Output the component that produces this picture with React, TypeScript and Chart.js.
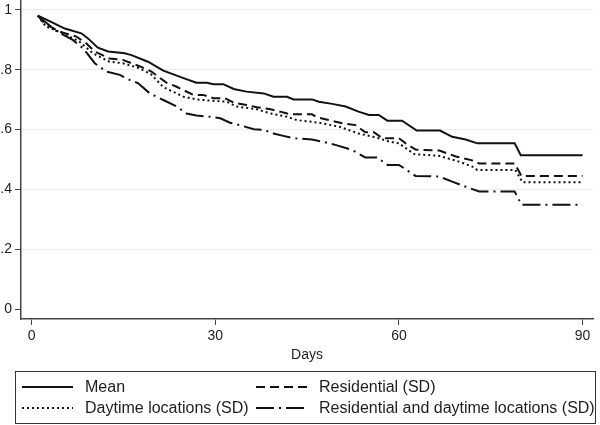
import React, { useEffect, useRef } from "react";
import { Chart, registerables } from "chart.js";

Chart.register(...registerables);

const xTicks = [0, 30, 60, 90];
const xTickLabels = ["0", "30", "60", "90"];
const yTicks = [0, 0.2, 0.4, 0.6, 0.8, 1];
const yTickLabels = ["0", ".2", ".4", ".6", ".8", "1"];
const xTitle = "Days";
const seriesNames = [
  "Mean",
  "Residential (SD)",
  "Daytime locations (SD)",
  "Residential and daytime locations (SD)",
];

const meanDays = [1, 3, 5.4, 8.1, 9.2, 10.8, 12.5, 15.2, 16.3, 19, 21.5, 24.8, 26.9, 28.6, 29.7, 31.3, 33, 35.1, 37.9, 39.5, 41.7, 42.8, 45.8, 46.9, 49.1, 51.3, 53.4, 55.1, 56.7, 58.1, 60.5, 62.9, 66.7, 68.7, 70.9, 72.8, 78.9, 79.9, 90];
const meanValues = [0.981, 0.962, 0.938, 0.922, 0.905, 0.874, 0.861, 0.855, 0.849, 0.827, 0.797, 0.772, 0.757, 0.757, 0.752, 0.752, 0.736, 0.727, 0.721, 0.71, 0.71, 0.701, 0.701, 0.693, 0.686, 0.677, 0.66, 0.649, 0.649, 0.63, 0.63, 0.597, 0.597, 0.576, 0.567, 0.554, 0.554, 0.514, 0.514];

const residentialDays = [1, 2.1, 4.5, 7.3, 8.9, 10.3, 12.7, 14.9, 17.6, 19.5, 22, 23.6, 26.4, 28, 29.7, 31.6, 33, 35.1, 36.8, 39, 40.6, 42.2, 45.8, 46.6, 48.5, 50.7, 52.9, 54.5, 55.9, 57.3, 60, 61.1, 62.7, 66.6, 69.3, 71.8, 73.1, 78.9, 80, 90];
const residentialValues = [0.981, 0.955, 0.928, 0.911, 0.889, 0.861, 0.838, 0.833, 0.812, 0.795, 0.757, 0.744, 0.716, 0.716, 0.705, 0.705, 0.69, 0.682, 0.675, 0.668, 0.66, 0.651, 0.651, 0.641, 0.632, 0.621, 0.615, 0.591, 0.591, 0.571, 0.571, 0.554, 0.533, 0.53, 0.51, 0.498, 0.487, 0.487, 0.445, 0.445];

const daytimeDays = [1, 2.3, 5.1, 7.8, 10, 12.7, 14.9, 17.6, 19.5, 21.5, 24.8, 26.9, 29.1, 31.9, 33.5, 36.8, 39, 41.7, 43.3, 46.9, 50.2, 53.4, 56.2, 58.4, 60, 62.5, 66.6, 69.8, 72, 72.8, 79, 80.2, 90];
const daytimeValues = [0.981, 0.945, 0.922, 0.894, 0.855, 0.827, 0.822, 0.805, 0.785, 0.742, 0.71, 0.701, 0.697, 0.693, 0.677, 0.668, 0.654, 0.643, 0.632, 0.623, 0.61, 0.587, 0.574, 0.56, 0.554, 0.518, 0.512, 0.493, 0.476, 0.465, 0.465, 0.424, 0.424];

const bothDays = [1, 4, 6.7, 8.4, 10.3, 12.2, 14.4, 16, 17.4, 19.3, 21.5, 23.7, 25.3, 26.9, 29.1, 30.8, 32.4, 34, 36.3, 37.9, 39.5, 41.1, 42.8, 45.8, 47.4, 49.6, 52.3, 54.5, 56.4, 58.1, 60, 62.7, 66.6, 68.7, 70.9, 73.1, 78.9, 80, 90];
const bothValues = [0.981, 0.93, 0.9, 0.872, 0.822, 0.794, 0.783, 0.766, 0.755, 0.721, 0.699, 0.677, 0.654, 0.647, 0.643, 0.638, 0.623, 0.615, 0.601, 0.599, 0.587, 0.579, 0.571, 0.567, 0.56, 0.549, 0.532, 0.507, 0.507, 0.482, 0.482, 0.445, 0.443, 0.426, 0.409, 0.393, 0.393, 0.349, 0.349];

const FONT = "'Liberation Sans', Arial, Helvetica, sans-serif";
const TEXT = "#1e1e1e";
const AXIS = "#444444";
const LINE = "#111111";
const DASHES: number[][] = [[], [9, 5], [2, 3], [18, 5, 2, 5]];

const toPoints = (days: number[], values: number[]) =>
  days.map((d, i) => ({ x: d, y: values[i] }));

const legendPlugin = {
  id: "boxLegend",
  afterDraw(chart: any) {
    const ctx = chart.ctx as CanvasRenderingContext2D;
    ctx.save();
    ctx.strokeStyle = "#333333";
    ctx.lineWidth = 1;
    ctx.setLineDash([]);
    ctx.strokeRect(15.5, 371.5, 580, 52);
    const slots = [
      [22, 387],
      [256, 387],
      [22, 408],
      [256, 408],
    ];
    ctx.font = `16px ${FONT}`;
    ctx.textBaseline = "middle";
    ctx.fillStyle = TEXT;
    chart.data.datasets.forEach((ds: any, i: number) => {
      const [x, y] = slots[i];
      ctx.beginPath();
      ctx.setLineDash(DASHES[i]);
      ctx.lineWidth = 2;
      ctx.strokeStyle = LINE;
      ctx.moveTo(x, y);
      ctx.lineTo(x + 51, y);
      ctx.stroke();
      ctx.setLineDash([]);
      ctx.fillText(ds.label, x + 63, y + 1);
    });
    ctx.restore();
  },
};

export default function App() {
  const ref = useRef<HTMLCanvasElement | null>(null);
  useEffect(() => {
    if (!ref.current) return;
    const series = [
      toPoints(meanDays, meanValues),
      toPoints(residentialDays, residentialValues),
      toPoints(daytimeDays, daytimeValues),
      toPoints(bothDays, bothValues),
    ];
    const chart = new Chart(ref.current, {
      type: "line",
      data: {
        datasets: series.map((pts, i) => ({
          label: seriesNames[i],
          data: pts,
          borderColor: LINE,
          borderWidth: 2,
          borderDash: DASHES[i],
          pointRadius: 0,
          tension: 0,
          fill: false,
        })),
      },
      options: {
        animation: false,
        responsive: false,
        layout: { padding: { left: 0, right: 7, top: 0, bottom: 61 } },
        plugins: { legend: { display: false }, tooltip: { enabled: false } },
        scales: {
          x: {
            type: "linear",
            min: -1.75,
            max: 91.7,
            afterBuildTicks: (s: any) => {
              s.ticks = xTicks.map((v) => ({ value: v }));
            },
            afterFit: (s: any) => {
              s.height = 45;
              s.paddingLeft = 0;
              s.paddingRight = 0;
              s.paddingTop = 0;
              s.paddingBottom = 0;
            },
            grid: {
              drawOnChartArea: false,
              drawTicks: true,
              tickLength: 6,
              tickColor: AXIS,
              color: AXIS,
            },
            border: { display: true, color: AXIS, width: 1.5 },
            ticks: {
              autoSkip: false,
              maxRotation: 0,
              padding: 3,
              color: TEXT,
              font: { family: FONT, size: 14 },
              callback: (_v: any, i: number) => xTickLabels[i],
            },
            title: {
              display: true,
              text: xTitle,
              color: TEXT,
              font: { family: FONT, size: 14 },
              padding: { top: 1, bottom: 0 },
            },
          },
          y: {
            type: "linear",
            min: -0.0334,
            max: 1.0334,
            afterBuildTicks: (s: any) => {
              s.ticks = yTicks.map((v) => ({ value: v }));
            },
            afterFit: (s: any) => {
              s.width = 21;
              s.paddingTop = 0;
              s.paddingBottom = 0;
              s.paddingLeft = 0;
              s.paddingRight = 0;
            },
            grid: {
              color: (c: any) => (c.tick && c.tick.value === 0 ? "rgba(0,0,0,0)" : "#ebebeb"),
              tickColor: AXIS,
              tickLength: 6,
              lineWidth: 1,
            },
            border: { display: true, color: AXIS, width: 1.5 },
            ticks: {
              padding: 3,
              color: TEXT,
              font: { family: FONT, size: 14 },
              callback: (_v: any, i: number) => yTickLabels[i],
            },
          },
        },
      },
      plugins: [legendPlugin],
    } as any);
    return () => chart.destroy();
  }, []);
  return (
    <div style={{ position: "absolute", left: 0, top: 0, width: 600, height: 425, background: "#fff" }}>
      <canvas ref={ref} width={600} height={425} style={{ display: "block", width: 600, height: 425 }} />
    </div>
  );
}
